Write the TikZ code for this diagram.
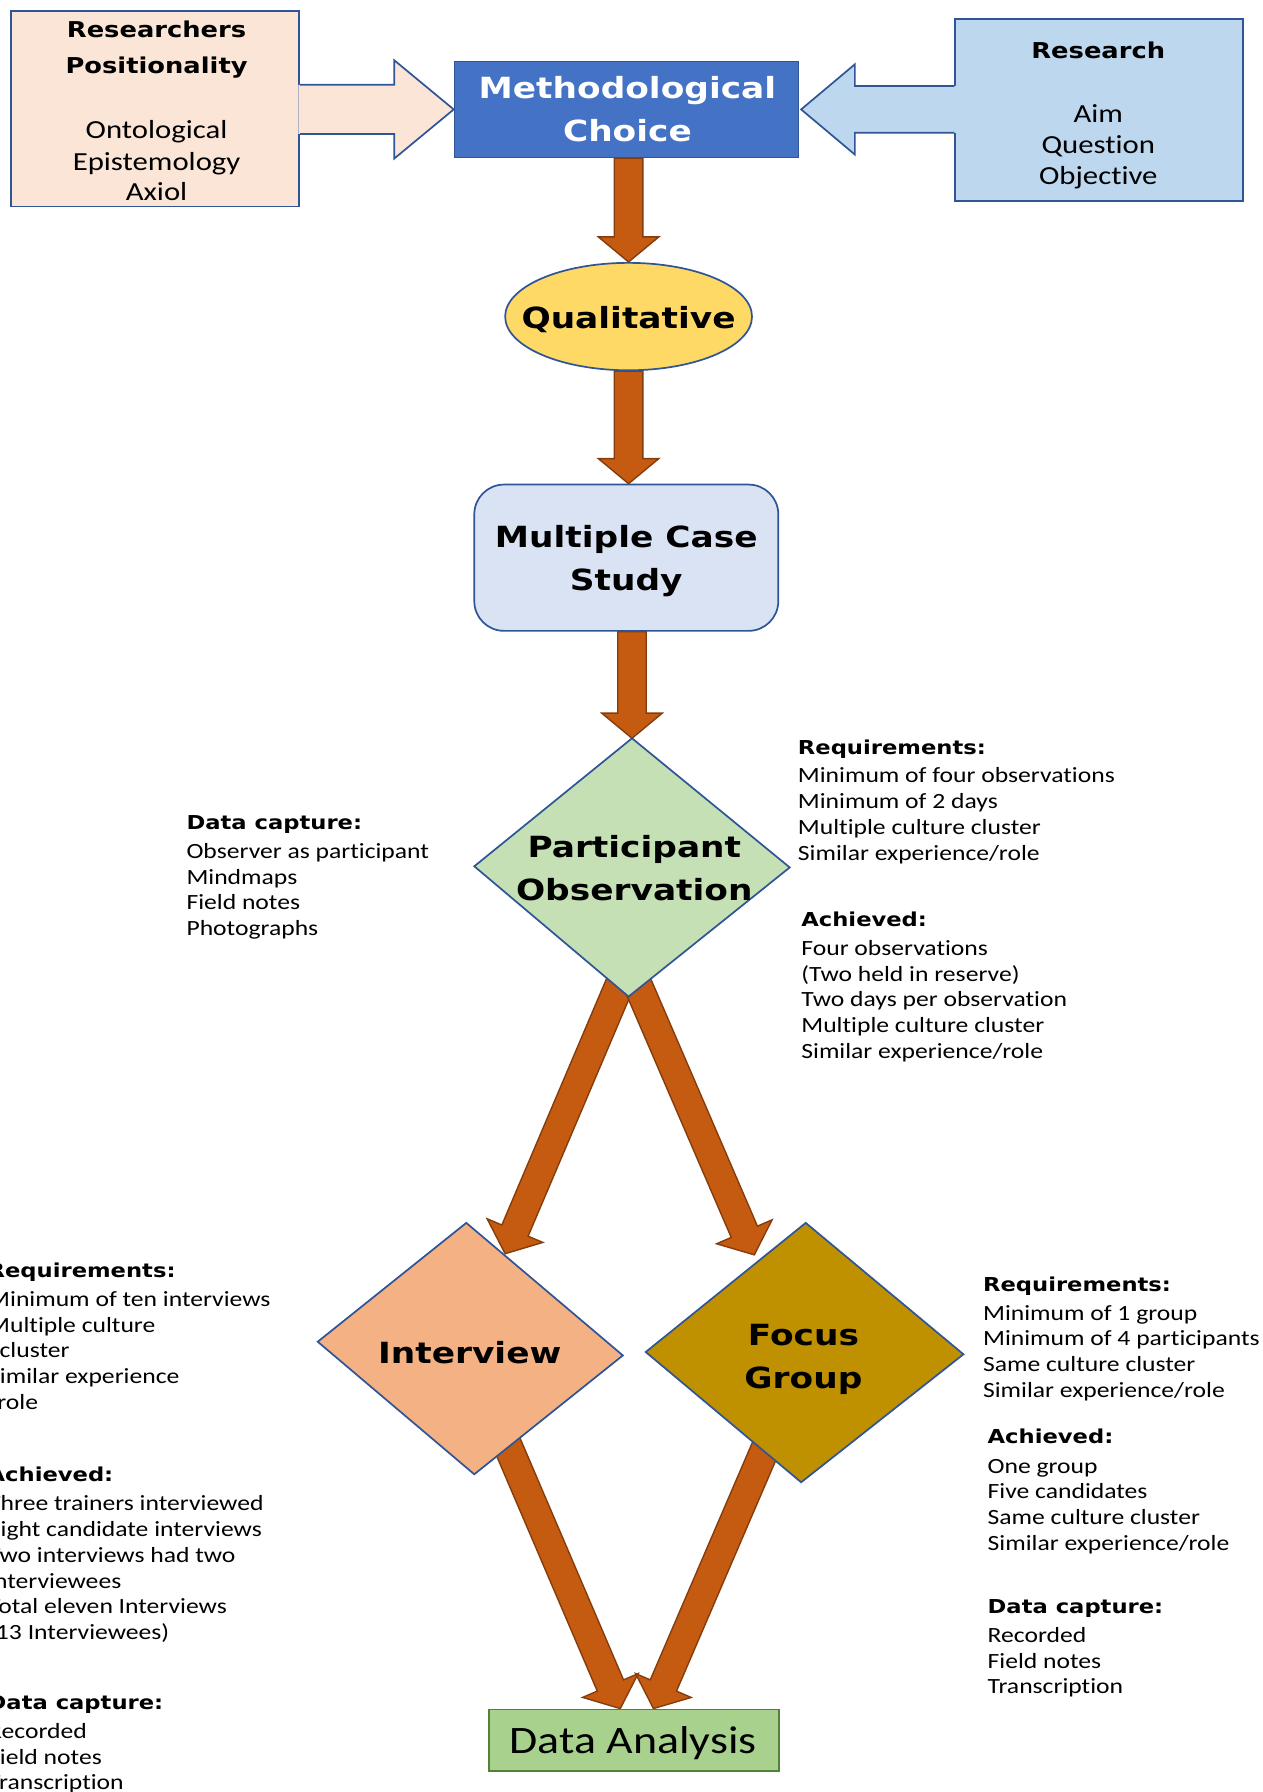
\documentclass[tikz,border=0pt]{standalone}
\usepackage{fontspec}
\setmainfont{Carlito}[FakeStretch=1.18, Ligatures=NoCommon]
\newfontfamily\headfont{DejaVu Sans}[FakeStretch=1.18]
\usetikzlibrary{calc,shapes.geometric}
\pgfdeclarelayer{back}
\pgfsetlayers{back,main}

\definecolor{edgeblue}{HTML}{2F5597}
\definecolor{peach}{HTML}{FBE5D6}
\definecolor{skyfill}{HTML}{BDD7EE}
\definecolor{methfill}{HTML}{4472C4}
\definecolor{qualfill}{HTML}{FFD966}
\definecolor{casefill}{HTML}{DAE3F3}
\definecolor{obsfill}{HTML}{C5E0B4}
\definecolor{intfill}{HTML}{F4B183}
\definecolor{focusfill}{HTML}{BF9000}
\definecolor{anafill}{HTML}{A9D18E}
\definecolor{anaedge}{HTML}{548235}
\definecolor{flowfill}{HTML}{C55A11}
\definecolor{flowedge}{HTML}{843C0C}

\tikzset{
  outline/.style={draw=edgeblue, line width=1.5pt},
  flow/.style={fill=flowfill, draw=flowedge, line width=1.2pt, line join=miter},
  title/.style={font=\headfont\bfseries\fontsize{25.5}{28}\selectfont, anchor=base, inner sep=0pt},
  boxtitle/.style={font=\headfont\bfseries\fontsize{19.1}{22}\selectfont, anchor=base, inner sep=0pt},
  boxtext/.style={font=\fontsize{22.8}{27}\selectfont, anchor=base, inner sep=0pt},
  anatext/.style={font=\fontsize{34}{40}\selectfont, anchor=base, inner sep=0pt},
  sidehead/.style={font=\headfont\bfseries\fontsize{16.8}{20}\selectfont, anchor=base west, inner sep=0pt},
  sidetext/.style={font=\fontsize{19}{22.5}\selectfont, anchor=base west, inner sep=0pt},
}

% lines of a text block, first baseline on the node's base
\newcommand\lines[1]{\begin{tabular}[t]{@{}l@{}}#1\end{tabular}}

% broad block arrow from #1 to the tip #2
\newcommand\fatarrow[2]{%
  \coordinate (hb) at ($(#2)!22pt!(#1)$);
  \filldraw[flow] ($(#1)!12.5pt!90:(#2)$) -- ($(hb)!12.5pt!90:(#2)$)
    -- ($(hb)!26.5pt!90:(#2)$) -- (#2) -- ($(hb)!26.5pt!-90:(#2)$)
    -- ($(hb)!12.5pt!-90:(#2)$) -- ($(#1)!12.5pt!-90:(#2)$) -- cycle;}

\begin{document}
\begin{tikzpicture}[x=1pt,y=-1pt]
\useasboundingbox (0,0) rectangle (1105,1568);
\clip (0,0) rectangle (1105,1568);

% ---------- top row ----------
\node[outline, fill=peach, anchor=north west, minimum width=252pt, minimum height=171pt, inner sep=0pt] (rp) at (9,9) {};
\node[boxtitle] (rp1) at (137,32.5) {Researchers};
\node[boxtitle] (rp2) at (137,64.5) {Positionality};
\node[boxtext] (rp3) at (137,121) {Ontological};
\node[boxtext] (rp4) at (137,149) {Epistemology};
\node[boxtext] (rp5) at (137,175) {Axiol};

\node[outline, fill=skyfill, anchor=north west, minimum width=252pt, minimum height=159pt, inner sep=0pt] (res) at (835,16) {};
\node[boxtitle] (res1) at (961,51.5) {Research};
\node[boxtext] (res2) at (961,107) {Aim};
\node[boxtext] (res3) at (961,134) {Question};
\node[boxtext] (res4) at (961,161) {Objective};

\node[outline, fill=methfill, anchor=north west, minimum width=301pt, minimum height=84pt, inner sep=0pt] (meth) at (397,53) {};
\node[title, text=white] (meth1) at (549,86) {Methodological};
\node[title, text=white] (meth2) at (549,124) {Choice};

% input arrows into the methodological choice
\coordinate (lt) at (meth.west);
\coordinate (ls) at (rp.east |- lt);
\fill[peach] ($(ls)+(-1.5,-21.5)$) -- ($(lt)+(-52,-21.5)$) -- ($(lt)+(-52,-43)$) -- (lt)
  -- ($(lt)+(-52,43)$) -- ($(lt)+(-52,21.5)$) -- ($(ls)+(-1.5,21.5)$) -- cycle;
\draw[outline, line join=miter] ($(ls)+(0,-21.5)$) -- ($(lt)+(-52,-21.5)$) -- ($(lt)+(-52,-43)$) -- (lt)
  -- ($(lt)+(-52,43)$) -- ($(lt)+(-52,21.5)$) -- ($(ls)+(0,21.5)$);

\coordinate (rt) at ($(meth.east)+(1.5,0)$);
\coordinate (rs) at (res.west |- rt);
\fill[skyfill] ($(rs)+(1.5,-20.5)$) -- ($(rt)+(47,-20.5)$) -- ($(rt)+(47,-39.5)$) -- (rt)
  -- ($(rt)+(47,39.5)$) -- ($(rt)+(47,20.5)$) -- ($(rs)+(1.5,20.5)$) -- cycle;
\draw[outline, line join=miter] ($(rs)+(0,-20.5)$) -- ($(rt)+(47,-20.5)$) -- ($(rt)+(47,-39.5)$) -- (rt)
  -- ($(rt)+(47,39.5)$) -- ($(rt)+(47,20.5)$) -- ($(rs)+(0,20.5)$);

% ---------- central column ----------
\node[outline, fill=qualfill, ellipse, minimum width=216pt, minimum height=94pt, inner sep=0pt] (qual) at (550,277) {};
\node[title] (qual1) at (550,287) {Qualitative};

\node[outline, fill=casefill, rounded corners=26pt, minimum width=266pt, minimum height=128pt, inner sep=0pt] (mcs) at (548,488) {};
\node[title] (mcs1) at (548,479) {Multiple Case};
\node[title] (mcs2) at (548,517) {Study};

\coordinate (pot) at (553,646);
\coordinate (por) at (691,759);
\coordinate (pob) at (550,872);
\coordinate (pol) at (415,758);
\draw[outline, fill=obsfill, line join=miter] (pot) -- (por) -- (pob) -- (pol) -- cycle;
\node[title] (po1) at (555,750) {Participant};
\node[title] (po2) at (555,788) {Observation};

\coordinate (intt) at (408,1070);
\coordinate (intr) at (545,1186);
\coordinate (intb) at (415,1290);
\coordinate (intl) at (278,1174);
\draw[outline, fill=intfill, line join=miter] (intt) -- (intr) -- (intb) -- (intl) -- cycle;
\node[title] (int1) at (411,1193) {Interview};

\coordinate (fgt) at (705,1070);
\coordinate (fgr) at (843,1185);
\coordinate (fgb) at (701,1297);
\coordinate (fgl) at (565,1183);
\draw[outline, fill=focusfill, line join=miter] (fgt) -- (fgr) -- (fgb) -- (fgl) -- cycle;
\node[title] (fg1) at (703,1177) {Focus};
\node[title] (fg2) at (703,1215) {Group};

\node[draw=anaedge, line width=1.5pt, fill=anafill, anchor=north west, minimum width=254pt, minimum height=54pt, inner sep=0pt] (da) at (427,1495) {};
\node[anatext] (da1) at (554,1534) {Data Analysis};

% ---------- flow arrows, behind the shapes ----------
\begin{pgfonlayer}{back}
\coordinate (a1s) at (meth.south -| qual.north);
\fatarrow{a1s}{qual.north}
\coordinate (a2t) at (qual.south |- mcs.north);
\fatarrow{qual.south}{a2t}
\coordinate (a3s) at (mcs.south -| pot);
\fatarrow{a3s}{pot}
\coordinate (a4s) at ($(pob)+(-3,-22)$);
\coordinate (a4t) at ($(intt)+(34,27)$);
\fatarrow{a4s}{a4t}
\coordinate (a5s) at ($(pob)+(3,-22)$);
\coordinate (a5t) at ($(fgt)+(-45,28)$);
\fatarrow{a5s}{a5t}
\coordinate (a6s) at ($(intb)+(25,-35)$);
\coordinate (a6t) at ($(da.north)+(-12,0)$);
\fatarrow{a6s}{a6t}
\coordinate (a7s) at ($(fgb)+(-29,-35)$);
\coordinate (a7t) at ($(da.north)+(17,0)$);
\fatarrow{a7s}{a7t}
\end{pgfonlayer}

% ---------- notes beside participant observation ----------
\node[sidehead] (podh) at (163,726) {Data capture:};
\node[sidetext] (podt) at (163,751) {\lines{Observer as participant\\Mindmaps\\Field notes\\Photographs}};
\node[sidehead] (porh) at (698,660) {Requirements:};
\node[sidetext] (port) at (698,685) {\lines{Minimum of four observations\\Minimum of 2 days\\Multiple culture cluster\\Similar experience/role}};
\node[sidehead] (poah) at (701,811) {Achieved:};
\node[sidetext] (poat) at (701,836) {\lines{Four observations\\(Two held in reserve)\\Two days per observation\\Multiple culture cluster\\Similar experience/role}};

% ---------- notes beside interview ----------
\node[sidehead] (inrh) at (-11,1118) {Requirements:};
\node[sidetext] (inrt) at (-10.5,1143) {\lines{Minimum of ten interviews\\Multiple culture\\\hspace*{10pt}cluster\\Similar experience\\\hspace*{8pt}role}};
\node[sidehead] (inah) at (-11,1296) {Achieved:};
\node[sidetext] (inat) at (-10.5,1322) {\lines{Three trainers interviewed\\Eight candidate interviews\\Two interviews had two\\interviewees\\Total eleven Interviews\\(13 Interviewees)}};
\node[sidehead] (indh) at (-11,1496) {Data capture:};
\node[sidetext] (indt) at (-10.5,1521) {\lines{Recorded\\Field notes\\Transcription}};

% ---------- notes beside focus group ----------
\node[sidehead] (fgrh) at (860,1130) {Requirements:};
\node[sidetext] (fgrt) at (860,1155) {\lines{Minimum of 1 group\\Minimum of 4 participants\\Same culture cluster\\Similar experience/role}};
\node[sidehead] (fgah) at (864,1263) {Achieved:};
\node[sidetext] (fgat) at (864,1289) {\lines{One group\\Five candidates\\Same culture cluster\\Similar experience/role}};
\node[sidehead] (fgdh) at (864,1412) {Data capture:};
\node[sidetext] (fgdt) at (864,1437) {\lines{Recorded\\Field notes\\Transcription}};
\end{tikzpicture}
\end{document}
